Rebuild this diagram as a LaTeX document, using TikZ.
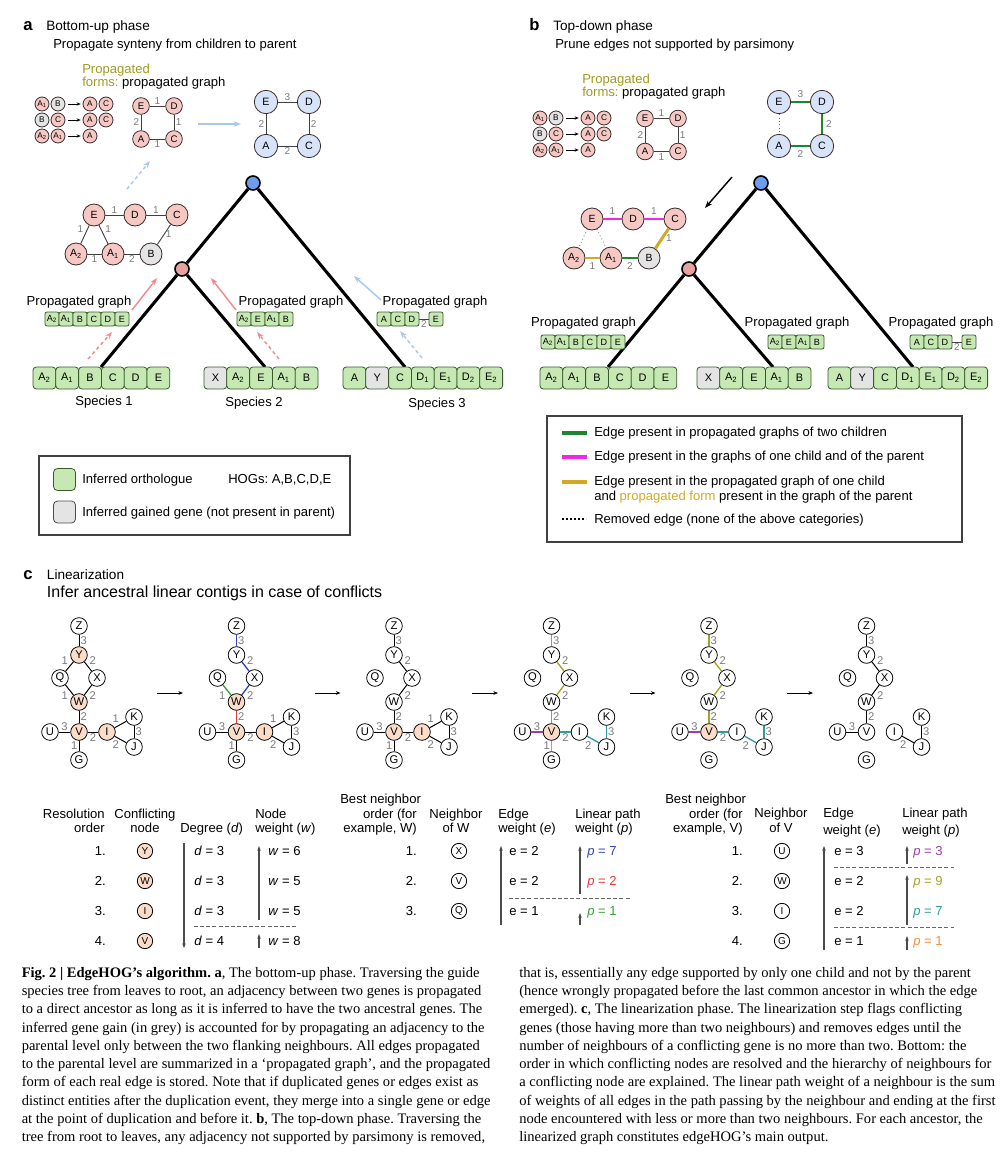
\documentclass[tikz,border=0pt]{standalone}
\usepackage{fontspec}
\setmainfont{Liberation Sans}
\newfontfamily\capfont{Liberation Serif}
\usetikzlibrary{arrows.meta}

\definecolor{pinkn}{HTML}{F5C8C4}
\definecolor{pinkd}{HTML}{E8A3A0}
\definecolor{bluen}{HTML}{D6E3F8}
\definecolor{blued}{HTML}{6D9EEB}
\definecolor{orthg}{HTML}{C6E9B4}
\definecolor{orthd}{HTML}{3A5A2C}
\definecolor{gaing}{HTML}{E4E4E4}
\definecolor{hotc}{HTML}{FBDCC9}
\definecolor{olivet}{HTML}{A09A22}
\definecolor{goldl}{HTML}{D4A823}
\definecolor{greenl}{HTML}{1E8530}
\definecolor{magl}{HTML}{F026E8}
\definecolor{redar}{HTML}{F08C8C}
\definecolor{bluear}{HTML}{A9C7EE}
\definecolor{wgrey}{HTML}{7A7A7A}
\definecolor{nodeline}{HTML}{3A2A2A}
\definecolor{pblue}{HTML}{3344BB}
\definecolor{pred}{HTML}{E23A3A}
\definecolor{pgreen}{HTML}{36A036}
\definecolor{ppurp}{HTML}{9B3DAA}
\definecolor{polive}{HTML}{A6A124}
\definecolor{pteal}{HTML}{2E9C9C}
\definecolor{porange}{HTML}{F08E3A}

\newcommand{\gs}[1]{\textsubscript{#1}}
% gene boxes in a row: name, left x, y, step, style, list of label/style
\newcommand{\genes}[6]{%
  \foreach \gl/\gk [count=\gi] in {#6}
    \node[#5, \gk] (#1-\gi) at ({#2+#4*(\gi-0.5)},#3) {\gl};}
\makeatletter
% nodes of one linearization graph, #1 = conflicting nodes
\newcommand{\linnodes}[1]{%
  \foreach \nm/\nx/\ny in {Z/0/626,Y/0/655,Q/-19/678,X/18/678,W/0/702,V/0/732,U/-29/732,I/28/732,K/55/717,J/55/747,G/0/760}{%
    \edef\chk{\noexpand\in@{,\nm,}{,#1,}}\chk
    \ifin@ \node[lin, hot] (\nm) at (\nx,\ny) {\nm};%
    \else \node[lin] (\nm) at (\nx,\ny) {\nm};\fi}}
% edges of one linearization graph: from/to/weight/side/style
\newcommand{\linedges}[1]{%
  \foreach \ea/\eb/\ew/\es/\ec in {#1}
    \draw[le, \ec] (\ea) -- node[cwt, \es] (w\ea\eb) {\ew} (\eb);}
\makeatother

\begin{document}
\frenchspacing
\begin{tikzpicture}[x=0.75pt, y=-0.75pt,
  every node/.style={font=\fontsize{9.8}{11.8}\selectfont},
  txt/.style={anchor=base west, inner sep=0pt},
  ctxt/.style={anchor=base, inner sep=0pt},
  rtxt/.style={anchor=base east, inner sep=0pt},
  head/.style={txt, font=\fontsize{10.2}{12}\selectfont},
  plabel/.style={txt, font=\fontsize{12.5}{14}\selectfont\bfseries},
  captxt/.style={txt, font=\fontsize{10.9}{13}\capfont},
  wt/.style={text=wgrey, inner sep=1pt, font=\fontsize{7.5}{8}\selectfont},
  cwt/.style={text=wgrey, inner sep=0.8pt, font=\fontsize{8.4}{9}\selectfont},
  gn/.style={circle, draw=nodeline, line width=0.6pt, inner sep=0pt, fill=pinkn},
  fm/.style={gn, minimum size=10.5pt, font=\fontsize{6.2}{7}\selectfont},
  gsm/.style={gn, minimum size=12.5pt, font=\fontsize{7.2}{8}\selectfont},
  gpk/.style={gn, minimum size=16.5pt, font=\fontsize{7.8}{8}\selectfont},
  gbl/.style={gn, fill=bluen, minimum size=17.5pt, font=\fontsize{8}{9}\selectfont},
  gain/.style={fill=gaing},
  ortho/.style={},
  orth/.style={draw=orthd, fill=orthg, line width=0.6pt, rounded corners=2.5pt, minimum width=17.1pt, minimum height=16.5pt, inner sep=0pt, font=\fontsize{8.2}{9}\selectfont},
  sorth/.style={orth, rounded corners=1.5pt, minimum width=10.5pt, minimum height=10.5pt, font=\fontsize{6.8}{7}\selectfont},
  tnode/.style={circle, draw=black, line width=1.2pt, minimum size=10.5pt, inner sep=0pt},
  treeline/.style={line width=2.3pt},
  ge/.style={draw=black!75, line width=0.7pt},
  tk/.style={line width=2.2pt},
  rem/.style={draw=black!60, line width=0.6pt, dotted},
  prop/.style={-{Stealth[length=5.5pt,width=4pt]}, line width=1.1pt},
  pdash/.style={prop, dash pattern=on 2.6pt off 2.2pt},
  rprop/.style={prop, draw=redar},
  bprop/.style={prop, draw=bluear},
  kprop/.style={prop, draw=black},
  rdash/.style={pdash, draw=redar},
  bdash/.style={pdash, draw=bluear},
  farr/.style={-{Stealth[length=3pt,width=2.6pt]}, line width=0.6pt, shorten <=2pt, shorten >=1.5pt},
  lin/.style={circle, draw=black, line width=0.6pt, minimum size=12.5pt, inner sep=0pt, fill=white, font=\fontsize{8.4}{9}\selectfont},
  hot/.style={fill=hotc},
  le/.style={line width=0.75pt},
  lk/.style={draw=black},
  lb/.style={draw=pblue, line width=1pt},
  lg/.style={draw=pgreen, line width=1pt},
  lr/.style={draw=pred, line width=1pt},
  lo/.style={draw=polive, line width=1pt},
  lp/.style={draw=ppurp, line width=1pt},
  lt/.style={draw=pteal, line width=1pt},
  lor/.style={draw=porange, line width=1pt},
  carr/.style={-{Stealth[length=3.5pt,width=2.8pt]}, line width=0.7pt},
  tc/.style={lin, minimum size=11.5pt, font=\fontsize{7.5}{8}\selectfont},
  tarr/.style={-{Stealth[length=3.5pt,width=2.6pt]}, line width=0.9pt, draw=black!70},
  tdash/.style={draw=black!60, line width=0.6pt, dash pattern=on 3pt off 1.6pt},
  legbox/.style={draw=black!75, line width=0.8pt, inner sep=0pt},
  swatch/.style={inner sep=0pt, minimum width=18.75pt, minimum height=3pt}]
  \useasboundingbox (0,0) rectangle (1007,1160);

  % headings
  \node[plabel] (a-lab) at (23,30) {a};
  \node[head] (a-title) at (46,30) {Bottom-up phase};
  \node[txt] (a-sub) at (53,48.5) {Propagate synteny from children to parent};
  \node[plabel] (b-lab) at (529,30) {b};
  \node[head] (b-title) at (553,30) {Top-down phase};
  \node[txt] (b-sub) at (555,48.5) {Prune edges not supported by parsimony};

  % propagated forms and propagated graph, both panels
  \foreach \p/\fx/\fy/\gx/\gy/\tx/\ty in {a/0/0/0/0/0/0, b/498/14/504/12.5/500/10} {
    \begin{scope}[shift={(\tx,\ty)}, name prefix=\p-]
      \node[txt, text=olivet] (prop1) at (82,73.3) {Propagated};
      \node[txt] (prop2) at (82,86.7) {\textcolor{olivet}{forms:} propagated graph};
    \end{scope}
    \begin{scope}[shift={(\fx,\fy)}, name prefix=\p-]
      \node[fm] (f11) at (42,104) {A\gs{1}};
      \node[fm, gain] (f12) at (58,104) {B};
      \node[fm] (f13) at (90,104) {A};
      \node[fm] (f14) at (106,104) {C};
      \node[fm, gain] (f21) at (42,120) {B};
      \node[fm] (f22) at (58,120) {C};
      \node[fm] (f23) at (90,120) {A};
      \node[fm] (f24) at (106,120) {C};
      \node[fm] (f31) at (42,136) {A\gs{2}};
      \node[fm] (f32) at (58,136) {A\gs{1}};
      \node[fm] (f33) at (90,136) {A};
      \draw[farr] (f12) -- (f13);
      \draw[farr] (f22) -- (f23);
      \draw[farr] (f32) -- (f33);
    \end{scope}
    \begin{scope}[shift={(\gx,\gy)}, name prefix=\p-]
      \node[gsm] (sE) at (141,106) {E};
      \node[gsm] (sD) at (174,106) {D};
      \node[gsm] (sA) at (141,139) {A};
      \node[gsm] (sC) at (174,139) {C};
      \draw[ge] (sE) -- node[wt, above] (wED) {1} (sD);
      \draw[ge] (sD) -- node[wt, right] (wDC) {1} (sC);
      \draw[ge] (sA) -- node[wt, below] (wAC) {1} (sC);
      \draw[ge] (sE) -- node[wt, left] (wEA) {2} (sA);
    \end{scope}
  }

  % parent graphs (blue)
  \node[gbl] (a-bE) at (266,102) {E};
  \node[gbl] (a-bD) at (309,102) {D};
  \node[gbl] (a-bA) at (266,146) {A};
  \node[gbl] (a-bC) at (309,146) {C};
  \draw[ge] (a-bE) -- node[wt, above] (a-bw1) {3} (a-bD);
  \draw[ge] (a-bE) -- node[wt, left] (a-bw2) {2} (a-bA);
  \draw[ge] (a-bD) -- node[wt, right] (a-bw3) {2} (a-bC);
  \draw[ge] (a-bA) -- node[wt, below] (a-bw4) {2} (a-bC);
  \node[gbl] (b-bE) at (779,102) {E};
  \node[gbl] (b-bD) at (822,102) {D};
  \node[gbl] (b-bA) at (779,146) {A};
  \node[gbl] (b-bC) at (822,146) {C};
  \draw[tk, draw=greenl] (b-bE) -- node[wt, above=1pt] (b-bw1) {3} (b-bD);
  \draw[rem] (b-bE) -- (b-bA);
  \draw[tk, draw=greenl] (b-bD) -- node[wt, right=1pt] (b-bw3) {2} (b-bC);
  \draw[tk, draw=greenl] (b-bA) -- node[wt, below=1pt] (b-bw4) {2} (b-bC);

  % child graphs (pink)
  \foreach \p/\dx/\dy in {a/0/0, b/498/4} {
    \begin{scope}[shift={(\dx,\dy)}, name prefix=\p-]
      \node[gpk] (pE) at (94,215) {E};
      \node[gpk] (pD) at (135,215) {D};
      \node[gpk] (pC) at (177,215) {C};
      \node[gpk] (pA2) at (76,254) {A\gs{2}};
      \node[gpk] (pA1) at (113,254) {A\gs{1}};
      \node[gpk, gain] (pB) at (151,254) {B};
    \end{scope}
  }
  \draw[ge] (a-pE) -- node[wt, above] (a-w1) {1} (a-pD);
  \draw[ge] (a-pD) -- node[wt, above] (a-w2) {1} (a-pC);
  \draw[ge] (a-pE) -- node[wt, above left] (a-w3) {1} (a-pA2);
  \draw[ge] (a-pE) -- node[wt, above right] (a-w4) {1} (a-pA1);
  \draw[ge] (a-pC) -- node[wt, right] (a-w5) {1} (a-pB);
  \draw[ge] (a-pA2) -- node[wt, below] (a-w6) {1} (a-pA1);
  \draw[ge] (a-pA1) -- node[wt, below] (a-w7) {2} (a-pB);
  \draw[tk, draw=magl] (b-pE) -- node[wt, above=1pt] (b-w1) {1} (b-pD);
  \draw[tk, draw=magl] (b-pD) -- node[wt, above=1pt] (b-w2) {1} (b-pC);
  \draw[rem] (b-pE) -- (b-pA2);
  \draw[rem] (b-pE) -- (b-pA1);
  \draw[tk, draw=goldl] (b-pC) -- node[wt, right=1pt] (b-w5) {1} (b-pB);
  \draw[tk, draw=goldl] (b-pA2) -- node[wt, below=1pt] (b-w6) {1} (b-pA1);
  \draw[tk, draw=greenl] (b-pA1) -- node[wt, below=1pt] (b-w7) {2} (b-pB);

  % species trees
  \node[tnode, fill=blued] (a-root) at (253,183) {};
  \node[tnode, fill=pinkd] (a-int) at (182,269) {};
  \coordinate (a-l1) at (101,367);
  \coordinate (a-l2) at (265,367);
  \coordinate (a-l3) at (405,367);
  \draw[treeline] (a-root) -- (a-int);
  \draw[treeline] (a-root) -- (a-l3);
  \draw[treeline] (a-int) -- (a-l1);
  \draw[treeline] (a-int) -- (a-l2);
  \node[tnode, fill=blued] (b-root) at (761,183) {};
  \node[tnode, fill=pinkd] (b-int) at (689,269) {};
  \coordinate (b-l1) at (608,367);
  \coordinate (b-l2) at (773,367);
  \coordinate (b-l3) at (913,367);
  \draw[treeline] (b-root) -- (b-int);
  \draw[treeline] (b-root) -- (b-l3);
  \draw[treeline] (b-int) -- (b-l1);
  \draw[treeline] (b-int) -- (b-l2);

  % extant genomes
  \genes{a-s1}{33}{378}{22.8}{orth}{A\gs{2}/ortho, A\gs{1}/ortho, B/ortho, C/ortho, D/ortho, E/ortho}
  \genes{a-s2}{204}{378}{22.8}{orth}{X/gain, A\gs{2}/ortho, E/ortho, A\gs{1}/ortho, B/ortho}
  \genes{a-s3}{343}{378}{22.8}{orth}{A/ortho, Y/gain, C/ortho, D\gs{1}/ortho, E\gs{1}/ortho, D\gs{2}/ortho, E\gs{2}/ortho}
  \genes{b-s1}{540}{378}{22.8}{orth}{A\gs{2}/ortho, A\gs{1}/ortho, B/ortho, C/ortho, D/ortho, E/ortho}
  \genes{b-s2}{697}{378}{22.8}{orth}{X/gain, A\gs{2}/ortho, E/ortho, A\gs{1}/ortho, B/ortho}
  \genes{b-s3}{828}{378}{22.8}{orth}{A/ortho, Y/gain, C/ortho, D\gs{1}/ortho, E\gs{1}/ortho, D\gs{2}/ortho, E\gs{2}/ortho}
  \node[ctxt] (a-sp1) at (104,405) {Species 1};
  \node[ctxt] (a-sp2) at (254,406) {Species 2};
  \node[ctxt] (a-sp3) at (437,407) {Species 3};

  % propagated graphs of the children
  \genes{a-c1}{45}{319}{14}{sorth}{A\gs{2}/ortho, A\gs{1}/ortho, B/ortho, C/ortho, D/ortho, E/ortho}
  \genes{a-c2}{237}{319}{14}{sorth}{A\gs{2}/ortho, E/ortho, A\gs{1}/ortho, B/ortho}
  \genes{a-c3}{377}{319}{14}{sorth}{A/ortho, C/ortho, D/ortho}
  \node[sorth] (a-c3E) at (436,319) {E};
  \draw[ge] (a-c3-3) -- node[wt, below] (a-c3w) {2} (a-c3E);
  \genes{b-c1}{541}{342}{14}{sorth}{A\gs{2}/ortho, A\gs{1}/ortho, B/ortho, C/ortho, D/ortho, E/ortho}
  \genes{b-c2}{768}{342}{14}{sorth}{A\gs{2}/ortho, E/ortho, A\gs{1}/ortho, B/ortho}
  \genes{b-c3}{910}{342}{14}{sorth}{A/ortho, C/ortho, D/ortho}
  \node[sorth] (b-c3E) at (969,342) {E};
  \draw[ge] (b-c3-3) -- node[wt, below] (b-c3w) {2} (b-c3E);
  \node[ctxt] (a-pg1) at (79,305) {Propagated graph};
  \node[ctxt] (a-pg2) at (291,305) {Propagated graph};
  \node[ctxt] (a-pg3) at (435,305) {Propagated graph};
  \node[ctxt] (b-pg1) at (583.5,326) {Propagated graph};
  \node[ctxt] (b-pg2) at (797,326) {Propagated graph};
  \node[ctxt] (b-pg3) at (941,326) {Propagated graph};

  % propagation arrows
  \foreach \n/\sx/\sy/\ex/\ey/\st in {
      ar1/132/310/157/278/rprop, ar2/236/310/211/278/rprop,
      ar3/381/300/354/276/bprop, ar4/88/359/112/332/rdash,
      ar5/279/359/257/332/rdash, ar6/422/358/400/331/bdash,
      ar7/127/189/150/161/bdash, ar8/198/124/241/124/bprop,
      ar9/732/177/705/208/kprop} {
    \coordinate (\n s) at (\sx,\sy);
    \coordinate (\n e) at (\ex,\ey);
    \draw[\st] (\n s) -- (\n e);
  }

  % legend a
  \node[legbox, minimum width=233.25pt, minimum height=59.25pt] (a-leg) at (194.5,495.5) {};
  \node[orth, minimum width=16.5pt, minimum height=16.5pt, rounded corners=3pt] (a-lg1) at (64.5,479.5) {};
  \node[orth, gain, draw=black!70, minimum width=16.5pt, minimum height=16.5pt, rounded corners=3pt] (a-lg2) at (64.5,512) {};
  \node[txt] (a-lgt1) at (82,483.3) {Inferred orthologue};
  \node[txt] (a-lgt2) at (228,483) {HOGs: A,B,C,D,E};
  \node[txt] (a-lgt3) at (82,516.7) {Inferred gained gene (not present in parent)};

  % legend b
  \node[legbox, minimum width=311.25pt, minimum height=94.5pt] (b-leg) at (754.5,479) {};
  \node[swatch, fill=greenl] (b-lg1) at (574.5,433) {};
  \node[swatch, fill=magl] (b-lg2) at (574.5,457) {};
  \node[swatch, fill=goldl] (b-lg3) at (574.5,482) {};
  \coordinate (b-lg4w) at (562,519);
  \coordinate (b-lg4e) at (586,519);
  \draw[line width=1.4pt, dash pattern=on 1.4pt off 1.6pt] (b-lg4w) -- (b-lg4e);
  \node[txt] (b-lgt1) at (594,436.7) {Edge present in propagated graphs of two children};
  \node[txt] (b-lgt2) at (594,460.7) {Edge present in the graphs of one child and of the parent};
  \node[txt] (b-lgt3) at (594,485.7) {Edge present in the propagated graph of one child};
  \node[txt] (b-lgt4) at (594,500.7) {and \textcolor{goldl}{propagated form} present in the graph of the parent};
  \node[txt] (b-lgt5) at (594,523.3) {Removed edge (none of the above categories)};

  % panel c
  \node[plabel] (c-lab) at (23,579) {c};
  \node[head] (c-title) at (46.7,579.5) {Linearization};
  \node[txt, font=\fontsize{12}{14}\selectfont] (c-sub) at (46.7,597.5) {Infer ancestral linear contigs in case of conflicts};

  \begin{scope}[shift={(79,0)}, name prefix=c1-]
    \linnodes{Y,W,V,I}
    \linedges{Z/Y/3/right/lk, Y/Q/1/above left/lk, Y/X/2/above right/lk, Q/W/1/below left/lk, X/W/2/below right/lk, W/V/2/right/lk, U/V/3/above/lk, V/I/2/below/lk, V/G/1/left/lk, I/K/1/above left/lk, I/J/2/below left/lk, K/J/3/right/lk}
  \end{scope}
  \begin{scope}[shift={(236.5,0)}, name prefix=c2-]
    \linnodes{W,V,I}
    \linedges{Z/Y/3/right/lb, Y/X/2/above right/lb, Q/W/1/below left/lg, X/W/2/below right/lb, W/V/2/right/lr, U/V/3/above/lk, V/I/2/below/lk, V/G/1/left/lk, I/K/1/above left/lk, I/J/2/below left/lk, K/J/3/right/lk}
  \end{scope}
  \begin{scope}[shift={(394,0)}, name prefix=c3-]
    \linnodes{V,I}
    \linedges{Z/Y/3/right/lk, Y/X/2/above right/lk, X/W/2/below right/lk, W/V/2/right/lk, U/V/3/above/lk, V/I/2/below/lk, V/G/1/left/lk, I/K/1/above left/lk, I/J/2/below left/lk, K/J/3/right/lk}
  \end{scope}
  \begin{scope}[shift={(551.5,0)}, name prefix=c4-]
    \linnodes{V}
    \linedges{Z/Y/3/right/lo, Y/X/2/above right/lo, X/W/2/below right/lo, W/V/2/right/lo, U/V/3/above/lp, V/I/2/below/lt, V/G/1/left/lor, I/J/2/below left/lt, K/J/3/right/lt}
  \end{scope}
  \begin{scope}[shift={(709,0)}, name prefix=c5-]
    \linnodes{V}
    \linedges{Z/Y/3/right/lo, Y/X/2/above right/lo, X/W/2/below right/lo, W/V/2/right/lo, U/V/3/above/lp, V/I/2/below/lt, I/J/2/below left/lt, K/J/3/right/lt}
  \end{scope}
  \begin{scope}[shift={(866.5,0)}, name prefix=c6-]
    \linnodes{}
    \linedges{Z/Y/3/right/lk, Y/X/2/above right/lk, X/W/2/below right/lk, W/V/2/right/lk, U/V/3/above/lk, I/J/2/below left/lk, K/J/3/right/lk}
  \end{scope}
  \foreach \k in {1,...,5} {
    \coordinate (cs\k) at ({157+157.5*(\k-1)},693);
    \coordinate (ce\k) at ({183+157.5*(\k-1)},693);
    \draw[carr] (cs\k) -- (ce\k);
  }

  % resolution order
  \node[rtxt] (t1h1) at (105,818) {Resolution};
  \node[rtxt] (t1h2) at (105,832) {order};
  \node[ctxt] (t1h3) at (145,818) {Conflicting};
  \node[ctxt] (t1h4) at (145,832) {node};
  \node[txt] (t1h5) at (180,832) {Degree (\textit{d})};
  \node[txt] (t1h6) at (255,818) {Node};
  \node[txt] (t1h7) at (255,832) {weight (\textit{w})};
  \foreach \nl/\dv/\wv [count=\i] in {Y/3/6, W/3/5, I/3/5, V/4/8} {
    \node[rtxt] (t1n\i) at (106,{855+30*(\i-1)}) {\i.};
    \node[tc, hot] (t1c\i) at (145,{851+30*(\i-1)}) {\nl};
    \node[txt] (t1d\i) at (194,{855+30*(\i-1)}) {\textit{d} = \dv};
    \node[txt] (t1w\i) at (268,{855+30*(\i-1)}) {\textit{w} = \wv};
  }
  \coordinate (t1a1) at (184,843); \coordinate (t1a2) at (184,948);
  \coordinate (t1a3) at (259,920); \coordinate (t1a4) at (259,846);
  \coordinate (t1a5) at (259,948); \coordinate (t1a6) at (259,934);
  \coordinate (t1l1) at (194,926); \coordinate (t1l2) at (298,926);
  \draw[tarr] (t1a1) -- (t1a2);
  \draw[tarr] (t1a3) -- (t1a4);
  \draw[tarr] (t1a5) -- (t1a6);
  \draw[tdash] (t1l1) -- (t1l2);

  % neighbours of W
  \node[txt] (t2h1) at (340,803) {Best neighbor};
  \node[rtxt] (t2h2) at (417,818) {order (for};
  \node[rtxt] (t2h3) at (417,832) {example, W)};
  \node[ctxt] (t2h4) at (456,818) {Neighbor};
  \node[ctxt] (t2h5) at (456,832) {of W};
  \node[txt] (t2h6) at (498,818) {Edge};
  \node[txt] (t2h7) at (498,832) {weight (\textit{e})};
  \node[txt] (t2h8) at (575,818) {Linear path};
  \node[txt] (t2h9) at (575,832) {weight (\textit{p})};
  \foreach \nl/\ev/\pv/\pc [count=\i] in {X/2/7/pblue, V/2/2/pred, Q/1/1/pgreen} {
    \node[rtxt] (t2n\i) at (417,{855+30*(\i-1)}) {\i.};
    \node[tc] (t2c\i) at (459,{851+30*(\i-1)}) {\nl};
    \node[txt] (t2e\i) at (509,{855+30*(\i-1)}) {e = \ev};
    \node[txt, text=\pc] (t2p\i) at (587,{855+30*(\i-1)}) {\textit{p} = \pv};
  }
  \coordinate (t2a1) at (501,925); \coordinate (t2a2) at (501,846);
  \coordinate (t2a3) at (580,894); \coordinate (t2a4) at (580,846);
  \coordinate (t2a5) at (580,925); \coordinate (t2a6) at (580,913);
  \coordinate (t2l1) at (509,898); \coordinate (t2l2) at (630,898);
  \draw[tarr] (t2a1) -- (t2a2);
  \draw[tarr] (t2a3) -- (t2a4);
  \draw[tarr] (t2a5) -- (t2a6);
  \draw[tdash] (t2l1) -- (t2l2);

  % neighbours of V
  \node[txt] (t3h1) at (665,803) {Best neighbor};
  \node[rtxt] (t3h2) at (743,818) {order (for};
  \node[rtxt] (t3h3) at (743,832) {example, V)};
  \node[ctxt] (t3h4) at (781,817) {Neighbor};
  \node[ctxt] (t3h5) at (781,832) {of V};
  \node[txt] (t3h6) at (823,817) {Edge};
  \node[txt] (t3h7) at (823,834) {weight (\textit{e})};
  \node[txt] (t3h8) at (902,817) {Linear path};
  \node[txt] (t3h9) at (902,834) {weight (\textit{p})};
  \foreach \nl/\ev/\pv/\pc [count=\i] in {U/3/3/ppurp, W/2/9/polive, I/2/7/pteal, G/1/1/porange} {
    \node[rtxt] (t3n\i) at (743,{855+30*(\i-1)}) {\i.};
    \node[tc] (t3c\i) at (782,{851+30*(\i-1)}) {\nl};
    \node[txt] (t3e\i) at (834,{855+30*(\i-1)}) {e = \ev};
    \node[txt, text=\pc] (t3p\i) at (913,{855+30*(\i-1)}) {\textit{p} = \pv};
  }
  \coordinate (t3a1) at (824,950); \coordinate (t3a2) at (824,846);
  \coordinate (t3a3) at (907,864); \coordinate (t3a4) at (907,846);
  \coordinate (t3a5) at (907,925); \coordinate (t3a6) at (907,875);
  \coordinate (t3a7) at (907,950); \coordinate (t3a8) at (907,936);
  \coordinate (t3l1) at (834,867); \coordinate (t3l2) at (954,867);
  \coordinate (t3l3) at (834,927); \coordinate (t3l4) at (954,927);
  \draw[tarr] (t3a1) -- (t3a2);
  \draw[tarr] (t3a3) -- (t3a4);
  \draw[tarr] (t3a5) -- (t3a6);
  \draw[tarr] (t3a7) -- (t3a8);
  \draw[tdash] (t3l1) -- (t3l2);
  \draw[tdash] (t3l3) -- (t3l4);

  % caption
  \foreach \capline [count=\k] in {
    {\textbf{Fig. 2 | EdgeHOG’s algorithm. a}, The bottom-up phase. Traversing the guide},
    {species tree from leaves to root, an adjacency between two genes is propagated},
    {to a direct ancestor as long as it is inferred to have the two ancestral genes. The},
    {inferred gene gain (in grey) is accounted for by propagating an adjacency to the},
    {parental level only between the two flanking neighbours. All edges propagated},
    {to the parental level are summarized in a ‘propagated graph’, and the propagated},
    {form of each real edge is stored. Note that if duplicated genes or edges exist as},
    {distinct entities after the duplication event, they merge into a single gene or edge},
    {at the point of duplication and before it. \textbf{b}, The top-down phase. Traversing the},
    {tree from root to leaves, any adjacency not supported by parsimony is removed,}}
    \node[captxt] (capl\k) at (21.5,{977.5+18.22*(\k-1)}) {\capline};
  \foreach \capline [count=\k] in {
    {that is, essentially any edge supported by only one child and not by the parent},
    {(hence wrongly propagated before the last common ancestor in which the edge},
    {emerged). \textbf{c}, The linearization phase. The linearization step flags conflicting},
    {genes (those having more than two neighbours) and removes edges until the},
    {number of neighbours of a conflicting gene is no more than two. Bottom: the},
    {order in which conflicting nodes are resolved and the hierarchy of neighbours for},
    {a conflicting node are explained. The linear path weight of a neighbour is the sum},
    {of weights of all edges in the path passing by the neighbour and ending at the first},
    {node encountered with less or more than two neighbours. For each ancestor, the},
    {linearized graph constitutes edgeHOG’s main output.}}
    \node[captxt] (capr\k) at (519,{977.5+18.22*(\k-1)}) {\capline};
\end{tikzpicture}
\end{document}
